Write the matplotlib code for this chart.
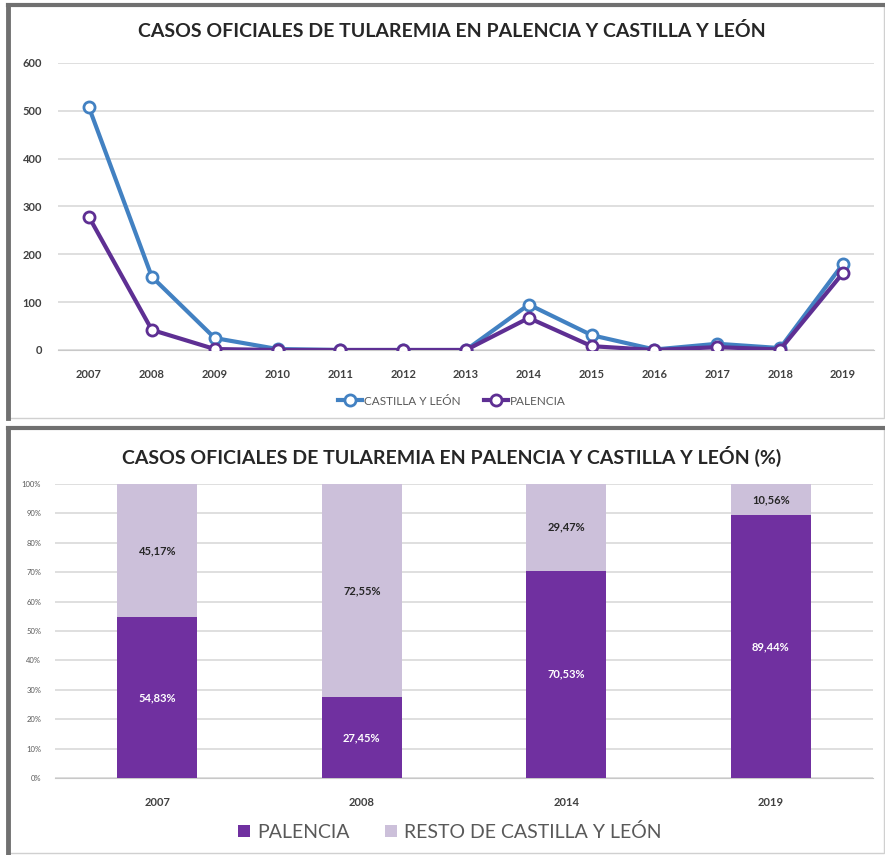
import numpy as np
import matplotlib.pyplot as plt
from matplotlib.lines import Line2D
from matplotlib.patches import Rectangle

# datos (casos oficiales)
years = ['2007', '2008', '2009', '2010', '2011', '2012', '2013',
         '2014', '2015', '2016', '2017', '2018', '2019']
casos_cyl = [507, 153, 25, 2, 0, 0, 0, 95, 31, 1, 13, 4, 180]
casos_palencia = [278, 42, 2, 0, 0, 0, 0, 67, 8, 0, 6, 1, 161]
y_ticks_top = [0, 100, 200, 300, 400, 500, 600]

bar_years = ['2007', '2008', '2014', '2019']
pct_palencia = [54.83, 27.45, 70.53, 89.44]
pct_resto = [45.17, 72.55, 29.47, 10.56]

plt.rcParams['font.family'] = ['Lato', 'DejaVu Sans']

W, H = 885, 855
fig = plt.figure(figsize=(W / 100, H / 100), dpi=100)
fig.patch.set_facecolor('white')

def px(x0, y0, x1, y1):
    # pixeles -> fraccion de figura
    return [x0 / W, 1 - y1 / H, (x1 - x0) / W, (y1 - y0) / H]

# marcos de los dos paneles
for (x0, y0, x1, y1) in [(8, 5, 884, 418), (8, 428, 884, 853)]:
    fig.patches.append(Rectangle((x0 / W, 1 - y1 / H), (x1 - x0) / W, (y1 - y0) / H,
                                 transform=fig.transFigure, fill=False,
                                 edgecolor='#d0d0d0', lw=1))
    fig.add_artist(Line2D([x0 / W, x0 / W], [1 - y1 / H, 1 - y0 / H],
                          transform=fig.transFigure, color='#707070', lw=3.5))
    fig.add_artist(Line2D([x0 / W, x1 / W], [1 - y0 / H, 1 - y0 / H],
                          transform=fig.transFigure, color='#707070', lw=3))

grid_c = '#d9d9d9'
text_c = '#404040'

# ---------------- grafico de lineas ----------------
ax1 = fig.add_axes(px(57.6, 63, 874.4, 350))
x = np.arange(len(years))
c_cyl = '#4281c2'
c_pal = '#5e2f93'
ax1.plot(x, casos_cyl, color=c_cyl, lw=3, marker='o', ms=8, mfc='white',
         mec=c_cyl, mew=2, label='CASTILLA Y LEÓN', zorder=3)
ax1.plot(x, casos_palencia, color=c_pal, lw=3, marker='o', ms=8, mfc='white',
         mec=c_pal, mew=2, label='PALENCIA', zorder=4)
ax1.set_xlim(-0.5, len(years) - 0.5)
ax1.set_ylim(0, 600)
ax1.set_yticks(y_ticks_top)
ax1.set_xticks(x)
ax1.set_xticklabels(years)
ax1.tick_params(length=0, labelsize=8, labelcolor=text_c, pad=14)
ax1.tick_params(axis='y', pad=11)
for lab in ax1.get_xticklabels() + ax1.get_yticklabels():
    lab.set_fontweight('bold')
ax1.grid(axis='y', color=grid_c, lw=1.2)
ax1.set_axisbelow(True)
for s in ['top', 'right', 'left']:
    ax1.spines[s].set_visible(False)
ax1.spines['bottom'].set_color('#c8c8c8')
fig.text(452 / W, 1 - 31 / H, 'CASOS OFICIALES DE TULAREMIA EN PALENCIA Y CASTILLA Y LEÓN',
         ha='center', va='center', fontsize=14, fontweight='bold', color='#262626')
fig.legend(handles=ax1.get_lines(), loc='center', bbox_to_anchor=(452 / W, 1 - 401 / H),
           ncol=2, frameon=False, fontsize=8.5, labelcolor='#595959',
           handlelength=2.0, columnspacing=2.0, handletextpad=0.2)

# ---------------- barras apiladas ----------------
ax2 = fig.add_axes(px(55, 484, 873, 778))
xb = np.arange(len(bar_years))
c_p = '#7030a0'
c_r = '#ccc0da'
ax2.bar(xb, pct_palencia, width=0.39, color=c_p, label='PALENCIA', zorder=3)
ax2.bar(xb, pct_resto, width=0.39, bottom=pct_palencia, color=c_r,
        label='RESTO DE CASTILLA Y LEÓN', zorder=3)
for i in range(len(bar_years)):
    ax2.text(xb[i], pct_palencia[i] / 2, f'{pct_palencia[i]:.2f}%'.replace('.', ','),
             ha='center', va='center', color='white', fontsize=8, fontweight='bold', zorder=4)
    ax2.text(xb[i], pct_palencia[i] + pct_resto[i] / 2, f'{pct_resto[i]:.2f}%'.replace('.', ','),
             ha='center', va='center', color='#262626', fontsize=8, fontweight='bold', zorder=4)
ax2.set_xlim(-0.5, len(bar_years) - 0.5)
ax2.set_ylim(0, 100)
ax2.set_yticks(np.arange(0, 101, 10))
ax2.set_yticklabels([f'{v}%' for v in range(0, 101, 10)])
ax2.set_xticks(xb)
ax2.set_xticklabels(bar_years, fontweight='bold')
ax2.tick_params(axis='y', length=0, labelsize=5.5, labelcolor='#595959', pad=10)
ax2.tick_params(axis='x', length=0, labelsize=8, labelcolor=text_c, pad=14)
ax2.grid(axis='y', color=grid_c, lw=1.2)
ax2.set_axisbelow(True)
for s in ['top', 'right', 'left']:
    ax2.spines[s].set_visible(False)
ax2.spines['bottom'].set_color('#c8c8c8')
fig.text(452 / W, 1 - 456 / H, 'CASOS OFICIALES DE TULAREMIA EN PALENCIA Y CASTILLA Y LEÓN (%)',
         ha='center', va='center', fontsize=14, fontweight='bold', color='#262626')
h, l = ax2.get_legend_handles_labels()
fig.legend(h, l, loc='center', bbox_to_anchor=(450 / W, 1 - 832 / H), ncol=2,
           frameon=False, fontsize=14, labelcolor='#595959', handlelength=0.6,
           handleheight=0.6, handletextpad=0.4, columnspacing=1.8)

fig.savefig('out.png', dpi=100)
